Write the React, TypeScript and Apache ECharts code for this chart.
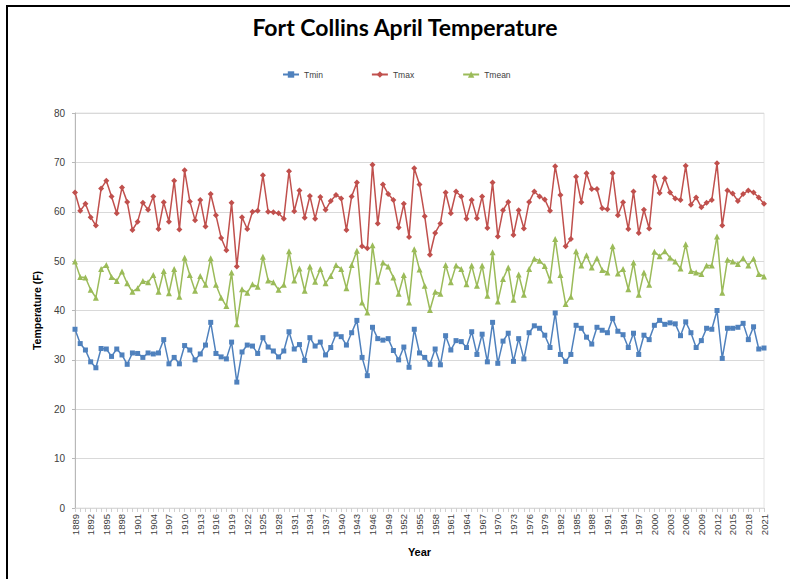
import React, { useEffect, useRef } from "react";
import * as echarts from "echarts";

const FIRST_YEAR = 1889;
const LAST_YEAR = 2021;
const years: string[] = [];
for (let y = FIRST_YEAR; y <= LAST_YEAR; y++) years.push(String(y));

const tmin = [
  36.2, 33.3, 32.0, 29.6, 28.4, 32.3, 32.2, 30.7, 32.2, 31.0,
  29.1, 31.4, 31.3, 30.5, 31.4, 31.2, 31.4, 34.1, 29.2, 30.5,
  29.2, 32.9, 32.0, 30.0, 31.2, 33.0, 37.6, 31.3, 30.6, 30.2,
  33.6, 25.5, 31.6, 33.0, 32.8, 31.3, 34.5, 32.6, 31.8, 30.6,
  31.8, 35.7, 32.2, 33.1, 29.9, 34.5, 32.8, 33.6, 31.0, 32.5,
  35.2, 34.7, 33.0, 35.5, 38.0, 30.5, 26.8, 36.6, 34.3, 34.0,
  34.3, 31.9, 30.0, 32.6, 28.5, 36.2, 31.4, 30.5, 29.1, 32.2,
  29.0, 34.9, 32.0, 33.9, 33.7, 32.5, 35.7, 31.1, 35.2, 29.6,
  37.6, 29.3, 33.8, 35.4, 29.7, 34.3, 30.2, 35.5, 36.9, 36.4,
  35.0, 32.5, 39.5, 31.1, 29.7, 31.1, 37.0, 36.4, 34.6, 33.2,
  36.6, 36.0, 35.5, 38.4, 35.8, 35.1, 32.5, 35.4, 31.1, 35.0,
  34.1, 37.0, 38.0, 37.2, 37.5, 37.3, 34.9, 37.7, 35.5, 32.5,
  33.9, 36.4, 36.2, 40.0, 30.3, 36.4, 36.4, 36.6, 37.4, 34.1,
  36.7, 32.2, 32.4,
];

const tmax = [
  63.9, 60.2, 61.6, 58.9, 57.2, 64.7, 66.3, 63.1, 59.7, 64.9,
  62.0, 56.3, 58.0, 61.8, 60.4, 63.1, 56.5, 61.9, 58.0, 66.3,
  56.4, 68.4, 62.1, 58.3, 62.4, 57.0, 63.6, 59.3, 54.7, 52.2,
  61.8, 48.9, 58.9, 56.5, 60.0, 60.2, 67.4, 60.0, 59.9, 59.7,
  58.6, 68.2, 60.1, 64.3, 58.8, 63.2, 58.6, 63.0, 60.4, 62.2,
  63.4, 62.7, 56.3, 63.1, 65.9, 53.0, 52.6, 69.5, 57.6, 65.5,
  63.6, 62.4, 56.8, 61.6, 54.9, 68.8, 65.5, 59.1, 51.3, 55.7,
  57.6, 63.9, 59.7, 64.1, 63.1, 58.6, 62.4, 58.7, 63.1, 56.7,
  65.9, 55.0, 60.3, 62.0, 55.3, 60.3, 56.6, 62.0, 64.1, 63.1,
  62.5, 60.2, 69.2, 63.4, 53.0, 54.5, 67.1, 61.9, 67.8, 64.6,
  64.6, 60.7, 60.5, 67.8, 59.3, 61.9, 56.5, 64.1, 55.7, 60.4,
  56.6, 67.1, 63.8, 66.8, 63.9, 62.7, 62.4, 69.3, 61.4, 62.9,
  60.9, 61.8, 62.4, 69.8, 57.2, 64.3, 63.7, 62.2, 63.6, 64.3,
  63.9, 62.9, 61.6,
];

const tmean = [
  49.9, 46.8, 46.7, 44.2, 42.6, 48.4, 49.2, 46.8, 46.0, 47.9,
  45.5, 43.8, 44.5, 46.0, 45.7, 47.2, 43.8, 48.0, 43.5, 48.4,
  42.8, 50.7, 47.2, 44.0, 47.0, 45.2, 50.6, 45.2, 42.6, 40.9,
  47.7, 37.2, 44.3, 43.6, 45.3, 44.8, 50.9, 46.1, 45.7, 44.2,
  45.2, 52.0, 46.1, 48.5, 44.0, 48.9, 45.8, 48.4, 45.5, 47.0,
  49.2, 48.4, 44.5, 49.2, 52.1, 41.6, 39.6, 53.2, 45.8, 49.7,
  48.9, 46.7, 43.4, 47.2, 41.6, 52.4, 48.3, 45.0, 40.1, 43.8,
  43.4, 49.2, 45.7, 49.1, 48.4, 45.3, 49.1, 45.0, 49.1, 43.0,
  51.8, 41.8, 46.4, 48.7, 42.2, 47.3, 43.2, 48.4, 50.5, 50.1,
  49.0, 46.1, 54.5, 47.2, 41.3, 42.8, 52.0, 49.1, 51.2, 48.7,
  50.6, 48.2, 47.7, 53.0, 47.5, 48.4, 44.3, 49.7, 43.2, 47.7,
  45.2, 51.9, 51.0, 52.0, 50.7, 49.9, 48.5, 53.4, 48.0, 47.7,
  47.4, 49.1, 49.1, 55.0, 43.6, 50.3, 49.9, 49.4, 50.6, 49.1,
  50.5, 47.4, 46.9,
];

const TITLE = "Fort Collins April Temperature";
const Y_NAME = "Temperature (F)";
const X_NAME = "Year";

export default function App() {
  const ref = useRef<HTMLDivElement>(null);
  useEffect(() => {
    if (!ref.current) return;
    const chart = echarts.init(ref.current, null, { renderer: "svg" });
    const font = "'Liberation Sans', Arial, sans-serif";
    chart.setOption({
      animation: false,
      backgroundColor: "#ffffff",
      textStyle: { fontFamily: font },
      graphic: [
        {
          type: "rect",
          shape: { x: 7, y: 6, width: 820, height: 620 },
          style: { fill: "none", stroke: "#000000", lineWidth: 2 },
          silent: true,
        },
        {
          type: "text",
          x: 405,
          y: 27,
          style: {
            text: TITLE,
            fill: "#000000",
            font: "bold 23px Lato, 'Liberation Sans', sans-serif",
            textAlign: "center",
            textVerticalAlign: "middle",
          },
        },
      ],
      legend: {
        left: 277,
        top: 65,
        itemWidth: 16,
        itemHeight: 8,
        itemGap: 48,
        textStyle: { fontSize: 8.5, color: "#404040", width: 40, fontFamily: font },
        data: ["Tmin", "Tmax", "Tmean"],
      },
      grid: {
        left: 75,
        right: 26,
        top: 113,
        bottom: 71,
        show: true,
        borderColor: "#e4e4e4",
        borderWidth: 1,
      },
      xAxis: {
        type: "category",
        data: years,
        boundaryGap: false,
        name: X_NAME,
        nameLocation: "middle",
        nameGap: 38,
        nameTextStyle: { fontWeight: "bold", fontSize: 11, color: "#000000", fontFamily: font },
        axisLine: { lineStyle: { color: "#d9d9d9", width: 1 } },
        axisTick: { show: true, interval: 0, length: 4, lineStyle: { color: "#d0d0d0" } },
        axisLabel: {
          interval: 2,
          rotate: 90,
          fontSize: 9.5,
          color: "#404040",
          margin: 6,
          fontFamily: font,
        },
        splitLine: { show: false },
      },
      yAxis: {
        type: "value",
        min: 0,
        max: 80,
        interval: 10,
        name: Y_NAME,
        nameLocation: "middle",
        nameGap: 24,
        nameTextStyle: { fontWeight: "bold", fontSize: 10.5, color: "#000000", fontFamily: font },
        axisLine: { show: true, lineStyle: { color: "#b8b8b8", width: 1 } },
        axisTick: { show: true, length: 3, lineStyle: { color: "#b8b8b8" } },
        axisLabel: { fontSize: 10, color: "#404040", margin: 10, fontFamily: font },
        splitLine: { show: true, lineStyle: { color: "#d9d9d9", width: 1 } },
      },
      series: [
        {
          name: "Tmin",
          type: "line",
          data: tmin,
          symbol: "rect",
          symbolSize: 5,
          showAllSymbol: true,
          lineStyle: { color: "#4F81BD", width: 1.5 },
          itemStyle: { color: "#4F81BD" },
        },
        {
          name: "Tmax",
          type: "line",
          data: tmax,
          symbol: "diamond",
          symbolSize: 6,
          showAllSymbol: true,
          lineStyle: { color: "#C0504D", width: 1.5 },
          itemStyle: { color: "#C0504D" },
        },
        {
          name: "Tmean",
          type: "line",
          data: tmean,
          symbol: "triangle",
          symbolSize: 6,
          showAllSymbol: true,
          lineStyle: { color: "#9BBB59", width: 1.5 },
          itemStyle: { color: "#9BBB59" },
        },
      ],
    });
    return () => chart.dispose();
  }, []);
  return (
    <div
      ref={ref}
      style={{ position: "fixed", left: 0, top: 0, width: 790, height: 579 }}
    />
  );
}
